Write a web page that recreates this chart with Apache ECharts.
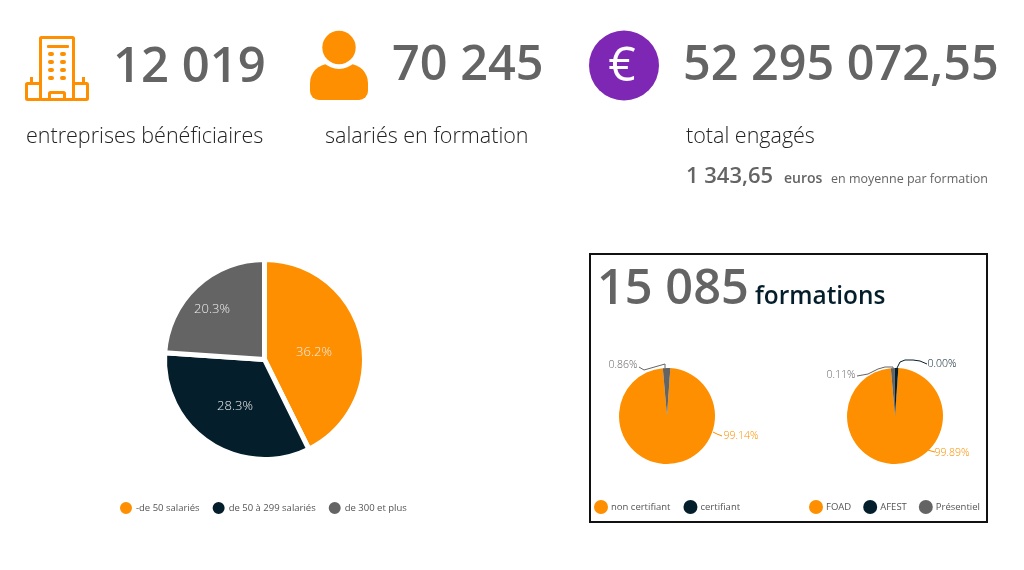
<!DOCTYPE html>
<html><head><meta charset="utf-8">
<style>html,body{margin:0;padding:0;background:#fff}#c{width:1024px;height:570px}</style>
<script src="https://cdn.jsdelivr.net/npm/echarts@6/dist/echarts.min.js"></script>
</head><body><div id="c"></div>
<script>
const ORANGE='#fd8f00',NAVY='#041e2c',GRAY='#646464',PURPLE='#7f27b5';
const sizeCategories=['-de 50 salariés','de 50 à 299 salariés','de 300 et plus'];
const sizeValues=[36.2,28.3,20.3];
const certCategories=['non certifiant','certifiant'];
const certValues=[99.14,0.86];
const modeCategories=['FOAD','Présentiel','AFEST'];
const modeValues=[99.89,0.11,0.00];
const modeLegendOrder=['FOAD','AFEST','Présentiel'];
const FONT='"Open Sans"';
function txt(x,y,text,size,weight,color,align){return {type:'text',x:x,y:y,silent:true,style:{text:text,font:(weight||400)+' '+size+'px '+FONT,fill:color||GRAY,textAlign:align||'left',textVerticalAlign:'middle'}};}
function rect(x,y,w,h,r){return {type:'rect',silent:true,shape:{x:x,y:y,width:w,height:h,r:r||0},style:{fill:ORANGE}};}
function orect(x,y,w,h){return {type:'rect',silent:true,shape:{x:x,y:y,width:w,height:h,r:1},style:{fill:'none',stroke:ORANGE,lineWidth:3}};}
const graphics=[
 orect(40.5,37.5,33,62),orect(26.5,83.5,14,16),orect(73.5,83.5,14,16),orect(49.5,92.5,15,7),
 rect(30,77,3,7),rect(82,77,3,7),
 rect(47,45,22,3,1),
 rect(48,52,6,4,2),rect(60,52,6,4,2),rect(48,60,6,4,2),rect(60,60,6,4,2),
 rect(48,68,6,4,2),rect(60,68,6,4,2),rect(48,76,6,4,2),rect(60,76,6,4,2),
 {type:'rect',silent:true,shape:{x:310,y:64,width:58,height:36,r:[19,19,9,9]},style:{fill:ORANGE}},
 {type:'circle',silent:true,shape:{cx:339,cy:47.5,r:21.5},style:{fill:'#fff'}},
 {type:'circle',silent:true,shape:{cx:339,cy:47.5,r:16.7},style:{fill:ORANGE}},
 {type:'circle',silent:true,shape:{cx:624,cy:65.5,r:35},style:{fill:PURPLE}},
 txt(622,67,'€',48,500,'#fff','center'),
 txt(113,68,'12 019',49,600),
 txt(392,66,'70 245',48.6,600),
 txt(683,66,'52 295 072,55',48.5,600),
 txt(26,137,'entreprises bénéficiaires',21.5,300,'#222'),
 txt(325,137,'salariés en formation',21.5,300,'#222'),
 txt(686,137,'total engagés',21.5,300,'#222'),
 txt(686,177,'1 343,65',22,600),
 txt(784,179,'euros',14,600),
 txt(831,179,'en moyenne par formation',12.5,400),
 {type:'rect',silent:true,shape:{x:590,y:254,width:397,height:268},style:{fill:'none',stroke:'#111',lineWidth:2}},
 txt(597,290,'15 085',48.7,600),
 txt(755,297,'formations',24.4,600,NAVY)
];
function pts(cat,val,col){return cat.map((n,i)=>({name:n,value:val[i],itemStyle:{color:col[i]}}));}
const pct1=p=>p.value.toFixed(1)+'%',pct2=p=>p.value.toFixed(2)+'%';
const legendBase={icon:'circle',itemWidth:14,itemHeight:14,itemGap:13,textStyle:{fontFamily:FONT,fontSize:9.5,color:'#555',padding:[0,0,0,-2]},selectedMode:false,orient:'horizontal',padding:0};
const sizeLabelPos=[[314,352],[235,406],[212,309]];
const certLabelPos=[[741,436],[623,365]];
const modeLabelPos=[[952,453],[841,375],[942,364]];
const certLines=[[[713,432],[717,434],[722,436]],[[639,367],[644,370],[665,364],[665,368]]];
const modeLines=[[[928,450],[931,451],[935,452]],[[857,376],[868,374],[878,369],[885,367],[893,367],[893,368]],[[927,364],[920,361],[913,360],[905,360],[900,362],[897,368]]];
function placed(pos,lines){return p=>({x:pos[p.dataIndex][0],y:pos[p.dataIndex][1],align:'center',verticalAlign:'middle',labelLinePoints:lines?lines[p.dataIndex]:undefined});}
echarts.init(document.getElementById('c'),null,{renderer:'canvas'}).setOption({
 animation:false,backgroundColor:'#fff',
 graphic:{elements:graphics},
 legend:[
  Object.assign({},legendBase,{left:118,top:500,itemGap:11,data:sizeCategories}),
  Object.assign({},legendBase,{left:594,top:500,data:[{name:'non certifiant'},{name:'certifiant',itemStyle:{color:NAVY}}]}),
  Object.assign({},legendBase,{left:809,top:500,itemGap:12,data:modeLegendOrder.map(n=>({name:n})) })
 ],
 series:[
  {type:'pie',center:[264.5,359.5],radius:[0,100],startAngle:90,clockwise:true,
   data:pts(sizeCategories,sizeValues,[ORANGE,NAVY,GRAY]),
   itemStyle:{borderColor:'#fff',borderWidth:5},
   label:{show:true,position:'inside',formatter:pct1,color:'#eeeeee',fontFamily:FONT,fontSize:13,fontWeight:300},
   labelLayout:placed(sizeLabelPos),
   labelLine:{show:false}},
  {type:'pie',center:[667,416],radius:[0,48],startAngle:86,minAngle:9,
   data:pts(certCategories,certValues,[ORANGE,GRAY]),
   label:{show:true,position:'outside',formatter:pct2,color:'inherit',fontFamily:FONT,fontSize:10.5,fontWeight:300},
   labelLayout:placed(certLabelPos,certLines),
   labelLine:{show:true,length:6,length2:6,lineStyle:{width:1}}},
  {type:'pie',center:[895,416],radius:[0,48],startAngle:86,minAngle:4.5,
   data:pts(modeCategories,modeValues,[ORANGE,GRAY,NAVY]),
   label:{show:true,position:'outside',formatter:pct2,color:'inherit',fontFamily:FONT,fontSize:10.5,fontWeight:300},
   labelLayout:placed(modeLabelPos,modeLines),
   labelLine:{show:true,length:6,length2:6,lineStyle:{width:1}}}
 ]
});
</script></body></html>
